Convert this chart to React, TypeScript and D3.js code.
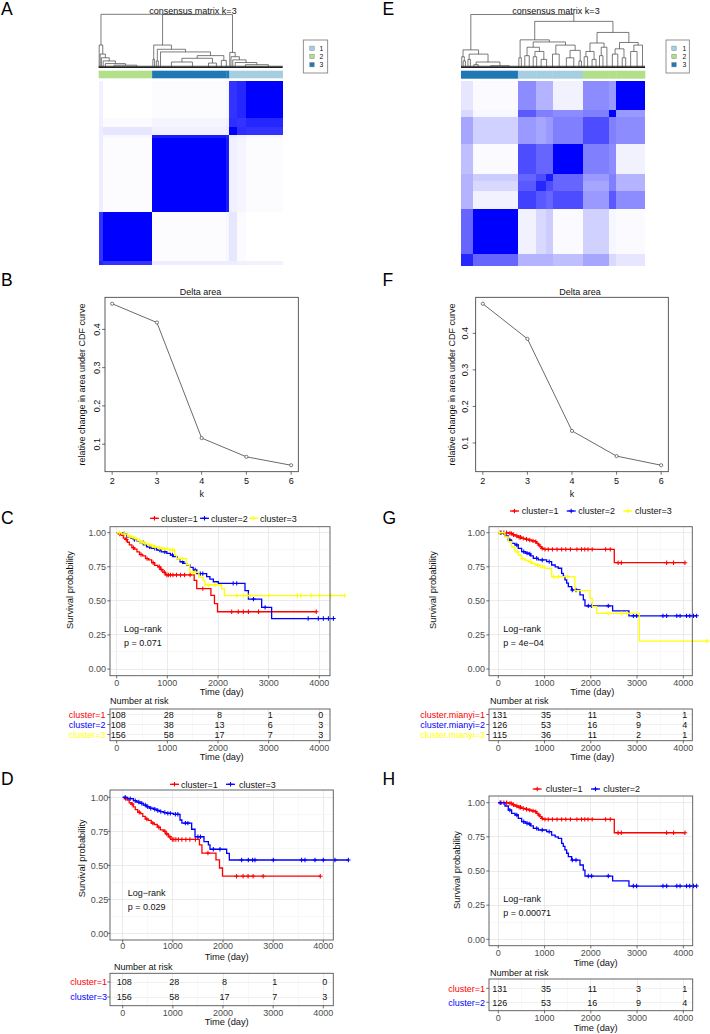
import React from 'react';
import * as d3 from 'd3';

const FONT = "'Liberation Sans', Arial, Helvetica, sans-serif";

// ---------------- Consensus clustering data ----------------
const clusterColor: Record<string, string> = { '1': '#A6CEE3', '2': '#B2DF8A', '3': '#1F78B4' };
const legendClusters = ['1', '2', '3'];

// Panel A: sub-blocks of samples in dendrogram order
const segSizesA = [8, 100, 150, 6, 15, 18, 75];
const segClusterA = ['2', '2', '3', '3', '1', '1', '1'];
const consensusA = [
  [0.85, 0.8, 0.07, 0.07, 0.07, 0.06, 0.05],
  [0.8, 1.0, 0.01, 0.03, 0.1, 0.02, 0.0],
  [0.07, 0.01, 1.0, 0.9, 0.06, 0.04, 0.01],
  [0.07, 0.03, 0.9, 0.85, 0.08, 0.06, 0.03],
  [0.07, 0.1, 0.06, 0.08, 1.0, 0.82, 0.8],
  [0.06, 0.02, 0.04, 0.06, 0.82, 0.8, 0.85],
  [0.05, 0.0, 0.01, 0.03, 0.8, 0.85, 1.0],
];
type TreeNode = number | [number, TreeNode, TreeNode];
const treeA: TreeNode = [1.0,
  [0.42, 2, [0.25, 2, [0.18, 3, [0.12, 4, [0.07, 5, [0.04, 30, 62]]]]]],
  [0.995,
    [0.42, [0.15, 3, 4], [0.34, [0.12, 3, 5], [0.29, 4, [0.22, [0.17, [0.1, 40, 45], [0.08, 20, 12]], [0.13, 8, 12]]]]],
    [0.28, 2, [0.2, 3, [0.14, 4, [0.09, 6, [0.05, 35, 58]]]]]]];

// Panel E
const segSizesE = [24, 91, 37, 20, 13, 61, 54, 14, 58];
const segClusterE = ['3', '3', '1', '1', '1', '1', '2', '2', '2'];
const consensusE = [
  [0.85, 0.6, 0.3, 0.3, 0.3, 0.25, 0.35, 0.15, 0.1],
  [0.6, 1.0, 0.05, 0.15, 0.2, 0.02, 0.18, 0.03, 0.02],
  [0.3, 0.05, 0.75, 0.65, 0.6, 0.7, 0.4, 0.65, 0.45],
  [0.3, 0.15, 0.65, 0.85, 0.7, 0.6, 0.35, 0.5, 0.3],
  [0.3, 0.2, 0.6, 0.7, 0.9, 0.6, 0.4, 0.5, 0.3],
  [0.25, 0.02, 0.7, 0.6, 0.6, 1.0, 0.5, 0.45, 0.05],
  [0.35, 0.18, 0.4, 0.35, 0.4, 0.5, 0.7, 0.5, 0.45],
  [0.15, 0.03, 0.65, 0.5, 0.5, 0.45, 0.5, 1.0, 0.4],
  [0.1, 0.02, 0.45, 0.3, 0.3, 0.05, 0.45, 0.4, 1.0],
];
const treeE: TreeNode = [1.0,
  [0.33, [0.2, 3, [0.12, 3, 6]], [0.25, [0.15, 4, 6], [0.1, [0.05, 8, 10], [0.03, 40, 35]]]],
  [0.87,
    [0.52, [0.18, 4, 6], [0.48, [0.38, [0.22, 8, 10], [0.3, [0.2, 6, 8], [0.15, 10, 12]]], [0.42, [0.25, 12, 15], [0.32, [0.18, 14, 16], [0.12, 5, 5]]]]],
    [0.66, [0.46, [0.3, [0.2, 6, 8], [0.15, 10, 6]], [0.38, [0.22, 8, 6], 10]], [0.47, [0.35, [0.25, 12, 10], [0.18, 8, 6]], [0.42, [0.3, 14, 12], 10]]]]];

// ---------------- Delta area ----------------
const deltaK = [2, 3, 4, 5, 6];
const deltaB = [0.467, 0.418, 0.116, 0.067, 0.045];
const deltaF = [0.481, 0.385, 0.133, 0.064, 0.039];
const deltaYTicks = [0.1, 0.2, 0.3, 0.4];

// ---------------- Survival data ----------------
// set 1 (C, D)
const s1c1Times = [40, 90, 130, 170, 210, 250, 300, 350, 400, 450, 510, 570, 630, 690, 750, 810, 860, 910, 960, 1530, 1580, 1860, 1930, 1990];
const s1c1Surv = [0.99, 0.98, 0.96, 0.95, 0.93, 0.91, 0.89, 0.88, 0.86, 0.84, 0.83, 0.81, 0.8, 0.78, 0.76, 0.75, 0.73, 0.71, 0.69, 0.65, 0.59, 0.54, 0.48, 0.42];
const s1c1Cens = [60, 190, 330, 480, 600, 720, 840, 880, 940, 990, 1020, 1060, 1110, 1180, 1260, 1340, 1450, 1700, 2270, 2400, 2500, 2600, 2800, 3940];

const s1c2Times = [120, 200, 280, 330, 400, 460, 530, 590, 680, 790, 880, 990, 1060, 1120, 1190, 1250, 1320, 1380, 1450, 1510, 1580, 1776, 1840, 1908, 2007, 2533, 2600, 2862, 3059];
const s1c2Surv = [0.99, 0.97, 0.96, 0.95, 0.94, 0.927, 0.91, 0.897, 0.885, 0.873, 0.86, 0.848, 0.836, 0.824, 0.81, 0.787, 0.775, 0.763, 0.745, 0.726, 0.7, 0.677, 0.66, 0.64, 0.628, 0.575, 0.513, 0.452, 0.37];
const s1c2Cens = [150, 350, 520, 650, 750, 850, 950, 1100, 1300, 1550, 1650, 1700, 2300, 2370, 2700, 2930, 3780, 3980, 4080, 4180, 4280];

const s1c3Times = [100, 213, 280, 345, 410, 478, 540, 611, 680, 744, 810, 877, 1010, 1143, 1180, 1375, 1442, 1621, 1708, 1741, 2073, 2126];
const s1c3Surv = [0.99, 0.975, 0.965, 0.956, 0.943, 0.93, 0.92, 0.912, 0.903, 0.895, 0.888, 0.882, 0.875, 0.833, 0.81, 0.765, 0.71, 0.674, 0.65, 0.618, 0.588, 0.539];
const s1c3Cens = [50, 150, 250, 320, 380, 450, 500, 560, 640, 700, 760, 840, 900, 950, 1050, 1100, 1250, 1300, 1500, 1550, 1807, 1940, 2372, 2505, 2591, 2638, 3003, 3568, 3635, 3834, 4000, 4232, 4500];

// set 2 (G, H)
const s2c1Times = [216, 300, 360, 430, 505, 580, 649, 720, 793, 830, 865, 900, 937, 973, 2508];
const s2c1Surv = [0.995, 0.985, 0.976, 0.967, 0.958, 0.952, 0.946, 0.94, 0.934, 0.922, 0.91, 0.897, 0.885, 0.878, 0.78];
const s2c1Cens = [60, 120, 180, 250, 280, 330, 400, 450, 480, 540, 610, 680, 750, 810, 880, 950, 1010, 1080, 1170, 1270, 1370, 1460, 1560, 1700, 1800, 1870, 1940, 2030, 2320, 2420, 2590, 2660, 3640, 3790, 4036];

const s2c2Times = [144, 216, 288, 360, 432, 505, 580, 649, 700, 757, 865, 1045, 1153, 1230, 1297, 1369, 1405, 1441, 1478, 1514, 1586, 1766, 1838, 1874, 2472, 2825];
const s2c2Surv = [0.976, 0.946, 0.922, 0.91, 0.885, 0.861, 0.85, 0.844, 0.83, 0.812, 0.8, 0.788, 0.763, 0.75, 0.739, 0.702, 0.68, 0.654, 0.63, 0.605, 0.58, 0.544, 0.507, 0.463, 0.427, 0.39];
const s2c2Cens = [40, 250, 400, 550, 620, 680, 830, 950, 1100, 1600, 1680, 1946, 2018, 2378, 2920, 2990, 3560, 3640, 3860, 3930, 4070, 4140, 4220, 4288];

const s2c3Times = [144, 216, 288, 360, 432, 505, 580, 649, 720, 793, 900, 1009, 1153, 1658, 1982, 2032, 2126, 3049];
const s2c3Surv = [0.97, 0.934, 0.897, 0.86, 0.836, 0.81, 0.797, 0.787, 0.775, 0.763, 0.75, 0.738, 0.677, 0.575, 0.518, 0.457, 0.408, 0.205];
const s2c3Cens = [30, 420, 520, 700, 850, 950, 1200, 1300, 1500, 2378, 2666, 2775, 4519];

const riskTimes = [0, 1000, 2000, 3000, 4000];
const riskS1c1 = [108, 28, 8, 1, 0];
const riskS1c2 = [108, 38, 13, 6, 3];
const riskS1c3 = [156, 58, 17, 7, 3];
const riskS2c1 = [131, 35, 11, 3, 1];
const riskS2c2 = [126, 53, 16, 9, 4];
const riskS2c3 = [115, 36, 11, 2, 1];

const survYTicks = [0, 0.25, 0.5, 0.75, 1];
const survYMinor = [0.125, 0.375, 0.625, 0.875];
const survXTicks = [0, 1000, 2000, 3000, 4000];
const survXMinor = [500, 1500, 2500, 3500];

const RED = '#FF0000', BLUE = '#0000FF', YELLOW = '#FFFF00';

// ---------------- helpers ----------------
function layoutTree(node: TreeNode, start: number, segs: number[][], leaves: number[][]): { x: number; h: number; size: number } {
  if (typeof node === 'number') {
    leaves.push([start, start + node]);
    return { x: start + node / 2, h: 0, size: node };
  }
  const [h, a, b] = node;
  const la = layoutTree(a, start, segs, leaves);
  const lb = layoutTree(b, start + la.size, segs, leaves);
  segs.push([la.x, la.h, la.x, h]);
  segs.push([lb.x, lb.h, lb.x, h]);
  segs.push([la.x, h, lb.x, h]);
  return { x: (la.x + lb.x) / 2, h, size: la.size + lb.size };
}

interface ConsProps {
  sizes: number[]; clusters: string[]; matrix: number[][]; tree: TreeNode;
  x0: number; x1: number; hmTop: number; hmBottom: number; barTop: number; barBottom: number;
  dTop: number; dBottom: number; titleX: number; legend: [number, number, number, number]; sqX: number; txtX: number;
}

function ConsensusPanel(p: ConsProps) {
  const N = d3.sum(p.sizes);
  const cum = [0, ...Array.from(d3.cumsum(p.sizes))];
  const xs = d3.scaleLinear().domain([0, N]).range([p.x0, p.x1]);
  const ys = d3.scaleLinear().domain([0, N]).range([p.hmBottom, p.hmTop]);
  const col = d3.scaleLinear<string>().domain([0, 1]).range(['#FFFFFF', '#0000FF']).interpolate(d3.interpolateRgb);
  const hs = d3.scaleLinear().domain([0, 1]).range([p.dBottom, p.dTop]);
  const segs: number[][] = [];
  const leaves: number[][] = [];
  layoutTree(p.tree, 0, segs, leaves);
  const cells: React.ReactNode[] = [];
  p.sizes.forEach((_, i) => {
    p.sizes.forEach((__, j) => {
      const x = xs(cum[j]);
      const w = xs(cum[j + 1]) - x;
      const y = ys(cum[i + 1]);
      const h = ys(cum[i]) - y;
      cells.push(<rect key={`c${i}-${j}`} x={x} y={y} width={w + 0.3} height={h + 0.3} fill={col(p.matrix[i][j])} />);
    });
  });
  const [lx0, ly0, lx1, ly1] = p.legend;
  return (
    <g>
      <text x={p.titleX} y={13.5} fontSize={9} textAnchor="middle" fill="#111">consensus matrix k=3</text>
      <g stroke="#444" strokeWidth={0.7} fill="none">
        {segs.map((s, i) => (
          <line key={i} x1={xs(s[0])} y1={hs(s[1])} x2={xs(s[2])} y2={hs(s[3])} />
        ))}
        {leaves.map((l, i) => (
          <line key={`l${i}`} x1={xs(l[0])} y1={hs(0.02)} x2={xs(l[1])} y2={hs(0.02)} strokeWidth={0.9} />
        ))}
      </g>
      <line x1={p.x0} x2={p.x1} y1={p.dBottom} y2={p.dBottom} stroke="#222" strokeWidth={1.4} />
      {p.sizes.map((_, j) => (
        <rect key={`b${j}`} x={xs(cum[j])} y={p.barTop} width={xs(cum[j + 1]) - xs(cum[j]) + 0.3} height={p.barBottom - p.barTop} fill={clusterColor[p.clusters[j]]} />
      ))}
      <g shapeRendering="crispEdges">{cells}</g>
      <rect x={lx0} y={ly0} width={lx1 - lx0} height={ly1 - ly0} fill="#fff" stroke="#777" strokeWidth={0.8} />
      {legendClusters.map((c, i) => (
        <g key={c}>
          <rect x={p.sqX} y={46.1 + i * 8.2} width={4.4} height={4.4} fill={clusterColor[c]} stroke="#888" strokeWidth={0.5} />
          <text x={p.txtX} y={50.8 + i * 8.2} fontSize={6.8} fill="#111">{c}</text>
        </g>
      ))}
    </g>
  );
}

interface DeltaProps { box: [number, number, number, number]; values: number[]; titleX: number; tickLabX: number; yTitleX: number }
function DeltaPanel(p: DeltaProps) {
  const [x0, y0, x1, y1] = p.box;
  const ext = d3.extent(p.values) as [number, number];
  const pad = (ext[1] - ext[0]) * 0.04;
  const y = d3.scaleLinear().domain([ext[0] - pad, ext[1] + pad]).range([y1, y0]);
  const kpad = (deltaK[deltaK.length - 1] - deltaK[0]) * 0.04;
  const x = d3.scaleLinear().domain([deltaK[0] - kpad, deltaK[deltaK.length - 1] + kpad]).range([x0, x1]);
  const line = d3.line<number>().x((_, i) => x(deltaK[i])).y((v) => y(v));
  const midY = (y0 + y1) / 2;
  return (
    <g fill="#111">
      <text x={p.titleX} y={295} fontSize={9} textAnchor="middle">Delta area</text>
      <rect x={x0} y={y0} width={x1 - x0} height={y1 - y0} fill="none" stroke="#333" strokeWidth={0.8} />
      <path d={line(p.values) || ''} fill="none" stroke="#444" strokeWidth={0.8} />
      {p.values.map((v, i) => (
        <circle key={i} cx={x(deltaK[i])} cy={y(v)} r={1.6} fill="#fff" stroke="#444" strokeWidth={0.7} />
      ))}
      {deltaK.map((k) => (
        <g key={k}>
          <line x1={x(k)} x2={x(k)} y1={y1} y2={y1 + 3} stroke="#333" strokeWidth={0.7} />
          <text x={x(k)} y={483.5} fontSize={9} textAnchor="middle">{k}</text>
        </g>
      ))}
      <text x={(x0 + x1) / 2} y={496.5} fontSize={9} textAnchor="middle">k</text>
      {deltaYTicks.map((t) => (
        <g key={t}>
          <line x1={x0} x2={x0 - 3} y1={y(t)} y2={y(t)} stroke="#333" strokeWidth={0.7} />
          <text transform={`translate(${p.tickLabX + 3},${y(t)}) rotate(-90)`} fontSize={9} textAnchor="middle">{t}</text>
        </g>
      ))}
      <text transform={`translate(${p.yTitleX + 3},${midY}) rotate(-90)`} fontSize={9} textAnchor="middle">relative change in area under CDF curve</text>
    </g>
  );
}

interface Curve { times: number[]; surv: number[]; cens: number[]; color: string }
interface RiskRow { label: string; color: string; values: number[] }
interface SurvProps {
  panel: [number, number, number, number]; xt0: number; xt4000: number; yt0: number; yt1: number;
  curves: Curve[]; legendY: number; legend: { label: string; color: string; sx: number; tx: number }[];
  yLabEnd: number; yTitle: [number, number]; xLabY: number; xTitle: [number, number];
  lr: [number, number, number]; pText: string;
  nrX: number; nrY: number; table: [number, number, number, number]; rowY: number[]; rows: RiskRow[];
  rowLabEnd: number; tLabY: number; tTitleY: number;
}

function stepAt(c: Curve, t: number) {
  let s = 1;
  c.times.forEach((tt, i) => { if (tt <= t) s = c.surv[i]; });
  return s;
}

function SurvPanel(p: SurvProps) {
  const x = d3.scaleLinear().domain([0, 4000]).range([p.xt0, p.xt4000]);
  const y = d3.scaleLinear().domain([0, 1]).range([p.yt0, p.yt1]);
  const [px0, py0, px1, py1] = p.panel;
  const [tx0, ty0, tx1, ty1] = p.table;
  const fmt = d3.format('.2f');
  const path = (c: Curve) => {
    let d = `M${x(0)},${y(1)}`;
    c.times.forEach((t, i) => { d += `H${x(t)}V${y(c.surv[i])}`; });
    const end = Math.max(c.cens[c.cens.length - 1], c.times[c.times.length - 1]);
    d += `H${x(end)}`;
    return d;
  };
  const plus = (cx: number, cy: number, color: string, key: string, s = 2.2) => (
    <path key={key} d={`M${cx - s},${cy}H${cx + s}M${cx},${cy - s}V${cy + s}`} stroke={color} strokeWidth={1.05} />
  );
  return (
    <g>
      {/* legend */}
      {p.legend.map((l, i) => (
        <g key={i}>
          <line x1={l.sx} x2={l.sx + 9} y1={p.legendY} y2={p.legendY} stroke={l.color} strokeWidth={1.3} />
          {plus(l.sx + 4.5, p.legendY, l.color, 'lp' + i, 2.3)}
          <text x={l.tx} y={p.legendY + 3.2} fontSize={9} fill="#111">{l.label}</text>
        </g>
      ))}
      {/* grid */}
      <g shapeRendering="crispEdges">
        {survXMinor.map((t) => <line key={'xm' + t} x1={x(t)} x2={x(t)} y1={py0} y2={py1} stroke="#F3F3F3" strokeWidth={0.6} />)}
        {survYMinor.map((t) => <line key={'ym' + t} x1={px0} x2={px1} y1={y(t)} y2={y(t)} stroke="#F3F3F3" strokeWidth={0.6} />)}
        {survXTicks.map((t) => <line key={'xM' + t} x1={x(t)} x2={x(t)} y1={py0} y2={py1} stroke="#E6E6E6" strokeWidth={0.8} />)}
        {survYTicks.map((t) => <line key={'yM' + t} x1={px0} x2={px1} y1={y(t)} y2={y(t)} stroke="#E6E6E6" strokeWidth={0.8} />)}
      </g>
      {/* curves */}
      {p.curves.map((c, i) => (
        <g key={'c' + i}>
          <path d={path(c)} fill="none" stroke={c.color} strokeWidth={1.3} />
          {c.cens.map((t, j) => plus(x(t), y(stepAt(c, t)), c.color, `m${i}-${j}`))}
        </g>
      ))}
      <rect x={px0} y={py0} width={px1 - px0} height={py1 - py0} fill="none" stroke="#555" strokeWidth={0.9} />
      {/* axes */}
      {survYTicks.map((t) => (
        <g key={'yt' + t}>
          <line x1={px0 - 2.7} x2={px0} y1={y(t)} y2={y(t)} stroke="#333" strokeWidth={0.7} />
          <text x={p.yLabEnd} y={y(t) + 3.2} fontSize={9} textAnchor="end" fill="#4D4D4D">{fmt(t)}</text>
        </g>
      ))}
      {survXTicks.map((t) => (
        <g key={'xt' + t}>
          <line x1={x(t)} x2={x(t)} y1={py1} y2={py1 + 2.7} stroke="#333" strokeWidth={0.7} />
          <text x={x(t)} y={p.xLabY + 2.8} fontSize={9} textAnchor="middle" fill="#4D4D4D">{t}</text>
        </g>
      ))}
      <text x={p.xTitle[0]} y={p.xTitle[1] + 4} fontSize={9.3} textAnchor="middle" fill="#111">Time (day)</text>
      <text transform={`translate(${p.yTitle[0] + 3.3},${p.yTitle[1]}) rotate(-90)`} fontSize={9.3} textAnchor="middle" fill="#111">Survival probability</text>
      <text x={p.lr[0]} y={p.lr[1] + 3.2} fontSize={9} fill="#111">Log−rank</text>
      <text x={p.lr[0]} y={p.lr[2] + 3.2} fontSize={9} fill="#111">{p.pText}</text>
      {/* risk table */}
      <text x={p.nrX} y={p.nrY + 3.2} fontSize={9} fill="#111">Number at risk</text>
      <g shapeRendering="crispEdges">
        {survXMinor.map((t) => <line key={'rxm' + t} x1={x(t)} x2={x(t)} y1={ty0} y2={ty1} stroke="#F3F3F3" strokeWidth={0.6} />)}
        {survXTicks.map((t) => <line key={'rxM' + t} x1={x(t)} x2={x(t)} y1={ty0} y2={ty1} stroke="#E6E6E6" strokeWidth={0.8} />)}
        {p.rowY.map((ry, i) => <line key={'rh' + i} x1={tx0} x2={tx1} y1={ry} y2={ry} stroke="#EDEDED" strokeWidth={0.8} />)}
      </g>
      {p.rows.map((r, i) => (
        <g key={'r' + i}>
          <text x={p.rowLabEnd} y={p.rowY[i] + 3.2} fontSize={9} textAnchor="end" fill={r.color}>{r.label}</text>
          <line x1={tx0 - 2.7} x2={tx0} y1={p.rowY[i]} y2={p.rowY[i]} stroke="#333" strokeWidth={0.7} />
          {r.values.map((v, j) => (
            <text key={j} x={x(riskTimes[j]) + 1.5} y={p.rowY[i] + 3.2} fontSize={9} textAnchor="middle" fill="#111">{v}</text>
          ))}
        </g>
      ))}
      <rect x={tx0} y={ty0} width={tx1 - tx0} height={ty1 - ty0} fill="none" stroke="#555" strokeWidth={0.9} />
      {survXTicks.map((t) => (
        <g key={'txt' + t}>
          <line x1={x(t)} x2={x(t)} y1={ty1} y2={ty1 + 2.7} stroke="#333" strokeWidth={0.7} />
          <text x={x(t)} y={p.tLabY + 2.8} fontSize={9} textAnchor="middle" fill="#4D4D4D">{t}</text>
        </g>
      ))}
      <text x={p.xTitle[0]} y={p.tTitleY + 4} fontSize={9.3} textAnchor="middle" fill="#111">Time (day)</text>
    </g>
  );
}

const curveS1c1 = (color: string): Curve => ({ times: s1c1Times, surv: s1c1Surv, cens: s1c1Cens, color });
const curveS1c2 = (color: string): Curve => ({ times: s1c2Times, surv: s1c2Surv, cens: s1c2Cens, color });
const curveS1c3 = (color: string): Curve => ({ times: s1c3Times, surv: s1c3Surv, cens: s1c3Cens, color });
const curveS2c1 = (color: string): Curve => ({ times: s2c1Times, surv: s2c1Surv, cens: s2c1Cens, color });
const curveS2c2 = (color: string): Curve => ({ times: s2c2Times, surv: s2c2Surv, cens: s2c2Cens, color });
const curveS2c3 = (color: string): Curve => ({ times: s2c3Times, surv: s2c3Surv, cens: s2c3Cens, color });

export default function App() {
  const letter = (t: string, x: number, y: number) => (
    <text x={x} y={y} fontSize={17.5} fill="#000">{t}</text>
  );
  return (
    <div style={{ position: 'absolute', left: 0, top: 0, width: 710, height: 1034, background: '#fff' }}>
      <svg width={710} height={1034} style={{ display: 'block', fontFamily: FONT }}>
        <rect width={710} height={1034} fill="#fff" />
        {letter('A', 1, 15)}
        {letter('E', 382.5, 15)}
        {letter('B', 1, 285.5)}
        {letter('F', 382.5, 285.5)}
        {letter('C', 1, 524)}
        {letter('G', 382.5, 524)}
        {letter('D', 1, 785)}
        {letter('H', 382.5, 785)}

        <ConsensusPanel sizes={segSizesA} clusters={segClusterA} matrix={consensusA} tree={treeA}
          x0={98.7} x1={282.7} hmTop={81} hmBottom={265} barTop={70.7} barBottom={78.3}
          dTop={14.3} dBottom={67.3} titleX={193} legend={[303.3, 40, 327.7, 73]} sqX={309.8} txtX={319.5} />
        <ConsensusPanel sizes={segSizesE} clusters={segClusterE} matrix={consensusE} tree={treeE}
          x0={461} x1={645} hmTop={81} hmBottom={265.7} barTop={70.7} barBottom={78.7}
          dTop={14.5} dBottom={67.3} titleX={556} legend={[666, 40, 689.3, 73]} sqX={671.8} txtX={682.5} />

        <DeltaPanel box={[105, 297.3, 298.3, 471.7]} values={deltaB} titleX={200.5} tickLabX={96.7} yTitleX={81.7} />
        <DeltaPanel box={[475.7, 297.3, 668.3, 471.7]} values={deltaF} titleX={580} tickLabX={465} yTitleX={451.7} />

        <SurvPanel panel={[110, 526.7, 330, 675.7]} xt0={116.7} xt4000={319.3} yt0={669} yt1={532.7}
          curves={[curveS1c1(RED), curveS1c2(BLUE), curveS1c3(YELLOW)]}
          legendY={518.3}
          legend={[{ label: 'cluster=1', color: RED, sx: 150, tx: 161 }, { label: 'cluster=2', color: BLUE, sx: 200, tx: 211 }, { label: 'cluster=3', color: YELLOW, sx: 249, tx: 260 }]}
          yLabEnd={106} yTitle={[70, 590]} xLabY={683.3} xTitle={[221.7, 690.7]} lr={[124, 628.3, 642.7]} pText="p = 0.071"
          nrX={110} nrY={701} table={[110, 709, 330, 740.7]} rowY={[714.5, 724.5, 734.5]}
          rows={[{ label: 'cluster=1', color: RED, values: riskS1c1 }, { label: 'cluster=2', color: BLUE, values: riskS1c2 }, { label: 'cluster=3', color: YELLOW, values: riskS1c3 }]}
          rowLabEnd={105.5} tLabY={748.3} tTitleY={756} />

        <SurvPanel panel={[489, 526.7, 692.3, 675.7]} xt0={498.3} xt4000={683.3} yt0={669} yt1={532.7}
          curves={[curveS2c1(RED), curveS2c2(BLUE), curveS2c3(YELLOW)]}
          legendY={511}
          legend={[{ label: 'cluster=1', color: RED, sx: 510, tx: 521.7 }, { label: 'cluster=2', color: BLUE, sx: 566.7, tx: 578.3 }, { label: 'cluster=3', color: YELLOW, sx: 623.3, tx: 635 }]}
          yLabEnd={485} yTitle={[432.3, 590]} xLabY={683.3} xTitle={[592.3, 690.7]} lr={[503.3, 628.3, 642.7]} pText="p = 4e−04"
          nrX={490} nrY={701} table={[489, 709, 692.3, 740.7]} rowY={[714.5, 724.5, 734.5]}
          rows={[{ label: 'cluster.mianyi=1', color: RED, values: riskS2c1 }, { label: 'cluster.mianyi=2', color: BLUE, values: riskS2c2 }, { label: 'cluster.mianyi=3', color: YELLOW, values: riskS2c3 }]}
          rowLabEnd={485} tLabY={748.3} tTitleY={756} />

        <SurvPanel panel={[110, 790, 333.3, 940]} xt0={122.7} xt4000={323.3} yt0={933.3} yt1={797.3}
          curves={[curveS1c1(RED), curveS1c3(BLUE)]}
          legendY={784.3}
          legend={[{ label: 'cluster=1', color: RED, sx: 170, tx: 181 }, { label: 'cluster=3', color: BLUE, sx: 226, tx: 239 }]}
          yLabEnd={108.3} yTitle={[81.7, 858.3]} xLabY={946} xTitle={[226.7, 956]} lr={[127.7, 892.7, 906.7]} pText="p = 0.029"
          nrX={114} nrY={966.7} table={[110, 973.3, 333.3, 1005.7]} rowY={[982, 997]}
          rows={[{ label: 'cluster=1', color: RED, values: riskS1c1 }, { label: 'cluster=3', color: BLUE, values: riskS1c3 }]}
          rowLabEnd={107} tLabY={1012.7} tTitleY={1020.7} />

        <SurvPanel panel={[489, 796, 692.7, 945.7]} xt0={498.3} xt4000={683.3} yt0={939.3} yt1={802.7}
          curves={[curveS2c1(RED), curveS2c2(BLUE)]}
          legendY={789}
          legend={[{ label: 'cluster=1', color: RED, sx: 532.7, tx: 545.7 }, { label: 'cluster=2', color: BLUE, sx: 591, tx: 603.3 }]}
          yLabEnd={485} yTitle={[456.7, 870]} xLabY={952.7} xTitle={[595.7, 961.7]} lr={[503.3, 898.3, 912.7]} pText="p = 0.00071"
          nrX={490} nrY={972.3} table={[489, 979, 692.7, 1010.7]} rowY={[988.3, 1002.3]}
          rows={[{ label: 'cluster=1', color: RED, values: riskS2c1 }, { label: 'cluster=2', color: BLUE, values: riskS2c2 }]}
          rowLabEnd={485} tLabY={1018.3} tTitleY={1027.3} />
      </svg>
    </div>
  );
}
